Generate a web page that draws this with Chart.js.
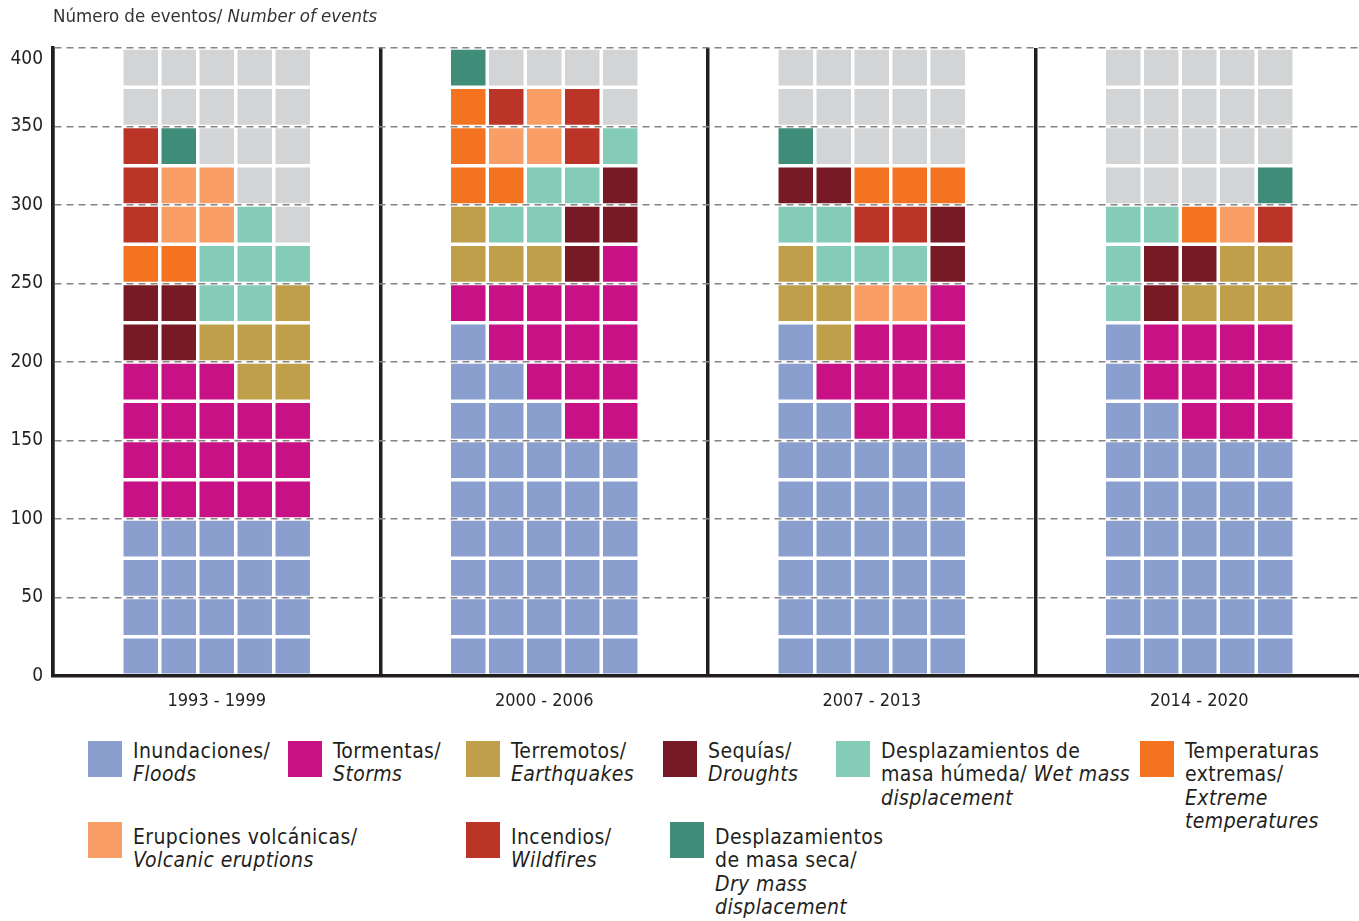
<!DOCTYPE html>
<html>
<head>
<meta charset="utf-8">
<script src="https://cdn.jsdelivr.net/npm/chart.js@4.4.1/dist/chart.umd.min.js"></script>
<style>
  html, body { margin: 0; padding: 0; background: #fff; }
  body { width: 1359px; height: 921px; overflow: hidden; position: relative;
         font-family: 'DejaVu Sans Condensed', 'Liberation Sans Narrow', sans-serif; color: #231f20; }
  #wrap { position: absolute; left: 0; top: 0; width: 1359px; height: 730px; overflow: hidden; }
  #title { position: absolute; left: 53px; top: 5px; font-size: 18.5px; color: #333; }
  .item { position: absolute; display: flex; }
  .sw { width: 34px; height: 36px; flex: none; }
  .txt { margin-left: 11px; font-size: 21px; line-height: 23.4px; letter-spacing: 0.4px; white-space: nowrap; }
</style>
</head>
<body>
<div id="wrap"><canvas id="wafflesChart" width="1363" height="730"></canvas></div>
<div id="title">Número de eventos/ <i>Number of events</i></div>
<div id="legend"></div>
<script>
// periodos en el eje X
const periods = ['1993 - 1999', '2000 - 2006', '2007 - 2013', '2014 - 2020'];

// cada celda = 5 eventos, cada fila de 5 celdas = 25 eventos
const rowValue = 25;
const yMax = 400;
const yStep = 50;

// categorías (código usado en las rejillas)
const categoryKeys = ['F', 'S', 'E', 'D', 'W', 'T', 'V', 'I', 'Y'];
const categoryColors = ['#8b9fcf', '#c71185', '#bf9f4a', '#781a25', '#84ccb8', '#f37321', '#f99e66', '#bb3428', '#3f8c78'];
const categoryLabels = [
    'Inundaciones/<br><i>Floods</i>',
    'Tormentas/<br><i>Storms</i>',
    'Terremotos/<br><i>Earthquakes</i>',
    'Sequías/<br><i>Droughts</i>',
    'Desplazamientos de<br>masa húmeda/ <i>Wet mass<br>displacement</i>',
    'Temperaturas<br>extremas/<br><i>Extreme<br>temperatures</i>',
    'Erupciones volcánicas/<br><i>Volcanic eruptions</i>',
    'Incendios/<br><i>Wildfires</i>',
    'Desplazamientos<br>de masa seca/<br><i>Dry mass<br>displacement</i>'
];
const emptyColor = '#d3d4d6';

// rejillas por periodo, fila inferior primero, '.' = celda vacía
const grid1993 = ['FFFFF', 'FFFFF', 'FFFFF', 'FFFFF', 'SSSSS', 'SSSSS', 'SSSSS', 'SSSEE',
                  'DDEEE', 'DDWWE', 'TTWWW', 'IVVW.', 'IVV..', 'IY...', '.....', '.....'];
const grid2000 = ['FFFFF', 'FFFFF', 'FFFFF', 'FFFFF', 'FFFFF', 'FFFFF', 'FFFSS', 'FFSSS',
                  'FSSSS', 'SSSSS', 'EEEDS', 'EWWDD', 'TTWWD', 'TVVIW', 'TIVI.', 'Y....'];
const grid2007 = ['FFFFF', 'FFFFF', 'FFFFF', 'FFFFF', 'FFFFF', 'FFFFF', 'FFSSS', 'FSSSS',
                  'FESSS', 'EEVVS', 'EWWWD', 'WWIID', 'DDTTT', 'Y....', '.....', '.....'];
const grid2014 = ['FFFFF', 'FFFFF', 'FFFFF', 'FFFFF', 'FFFFF', 'FFFFF', 'FFSSS', 'FSSSS',
                  'FSSSS', 'WDEEE', 'WDDEE', 'WWTVI', '....Y', '.....', '.....', '.....'];

const grids = [grid1993, grid2000, grid2007, grid2014];
const fontFamily = "'DejaVu Sans Condensed', 'Liberation Sans Narrow', sans-serif";
const ink = '#231f20';

function colorOf(key) {
    const i = categoryKeys.indexOf(key);
    return i < 0 ? emptyColor : categoryColors[i];
}

// una pila por columna, un dataset por celda (fila de abajo a arriba)
const datasets = [];
for (let c = 0; c < 5; c++) {
    for (let r = 0; r < grid1993.length; r++) {
        datasets.push({
            stack: 'col' + c,
            data: periods.map(() => rowValue),
            backgroundColor: grids.map(g => colorOf(g[r][c]))
        });
    }
}

new Chart(document.getElementById('wafflesChart'), {
    type: 'bar',
    data: { labels: periods, datasets: datasets },
    options: {
        responsive: false,
        animation: false,
        layout: { padding: { top: 48, left: 0, right: 0, bottom: 0 } },
        datasets: {
            bar: { categoryPercentage: 0.58, barPercentage: 1, borderWidth: 0, inflateAmount: -1.75 }
        },
        plugins: { legend: { display: false }, tooltip: { enabled: false } },
        scales: {
            x: {
                stacked: true,
                grid: {
                    offset: true,
                    drawTicks: false,
                    lineWidth: 3.5,
                    color: ctx => ctx.index === periods.length ? 'rgba(0,0,0,0)' : ink
                },
                border: { display: true, color: ink, width: 3.5 },
                ticks: { color: ink, padding: 15, font: { family: fontFamily, size: 18 } },
                afterFit: s => { s.height = 54; }
            },
            y: {
                stacked: true,
                min: 0,
                max: yMax,
                grid: { drawTicks: false, color: '#858585', lineWidth: 1.5 },
                border: { display: true, color: ink, width: 3.5, dash: [7, 5] },
                ticks: {
                    stepSize: yStep,
                    padding: 10,
                    color: ink,
                    font: { family: fontFamily, size: 19 },
                    callback: v => v === yMax ? ['', String(v)] : String(v)
                },
                afterFit: s => { s.width = 53; }
            }
        }
    }
});

// leyenda en HTML (posiciones de la imagen original)
const legendPos = [[88, 741], [288, 741], [466, 741], [663, 741], [836, 741], [1140, 741],
                   [88, 822], [466, 822], [670, 822]];
const legendTextShift = [-1, -1, -1, -1, -1, -1, 4, 4, 4];
const legend = document.getElementById('legend');
categoryLabels.forEach((label, k) => {
    const el = document.createElement('div');
    el.className = 'item';
    el.style.left = legendPos[k][0] + 'px';
    el.style.top = legendPos[k][1] + 'px';
    el.innerHTML = '<div class="sw" style="background:' + categoryColors[k] + '"></div>' +
                   '<div class="txt" style="margin-top:' + legendTextShift[k] + 'px">' + label + '</div>';
    legend.appendChild(el);
});
</script>
</body>
</html>
